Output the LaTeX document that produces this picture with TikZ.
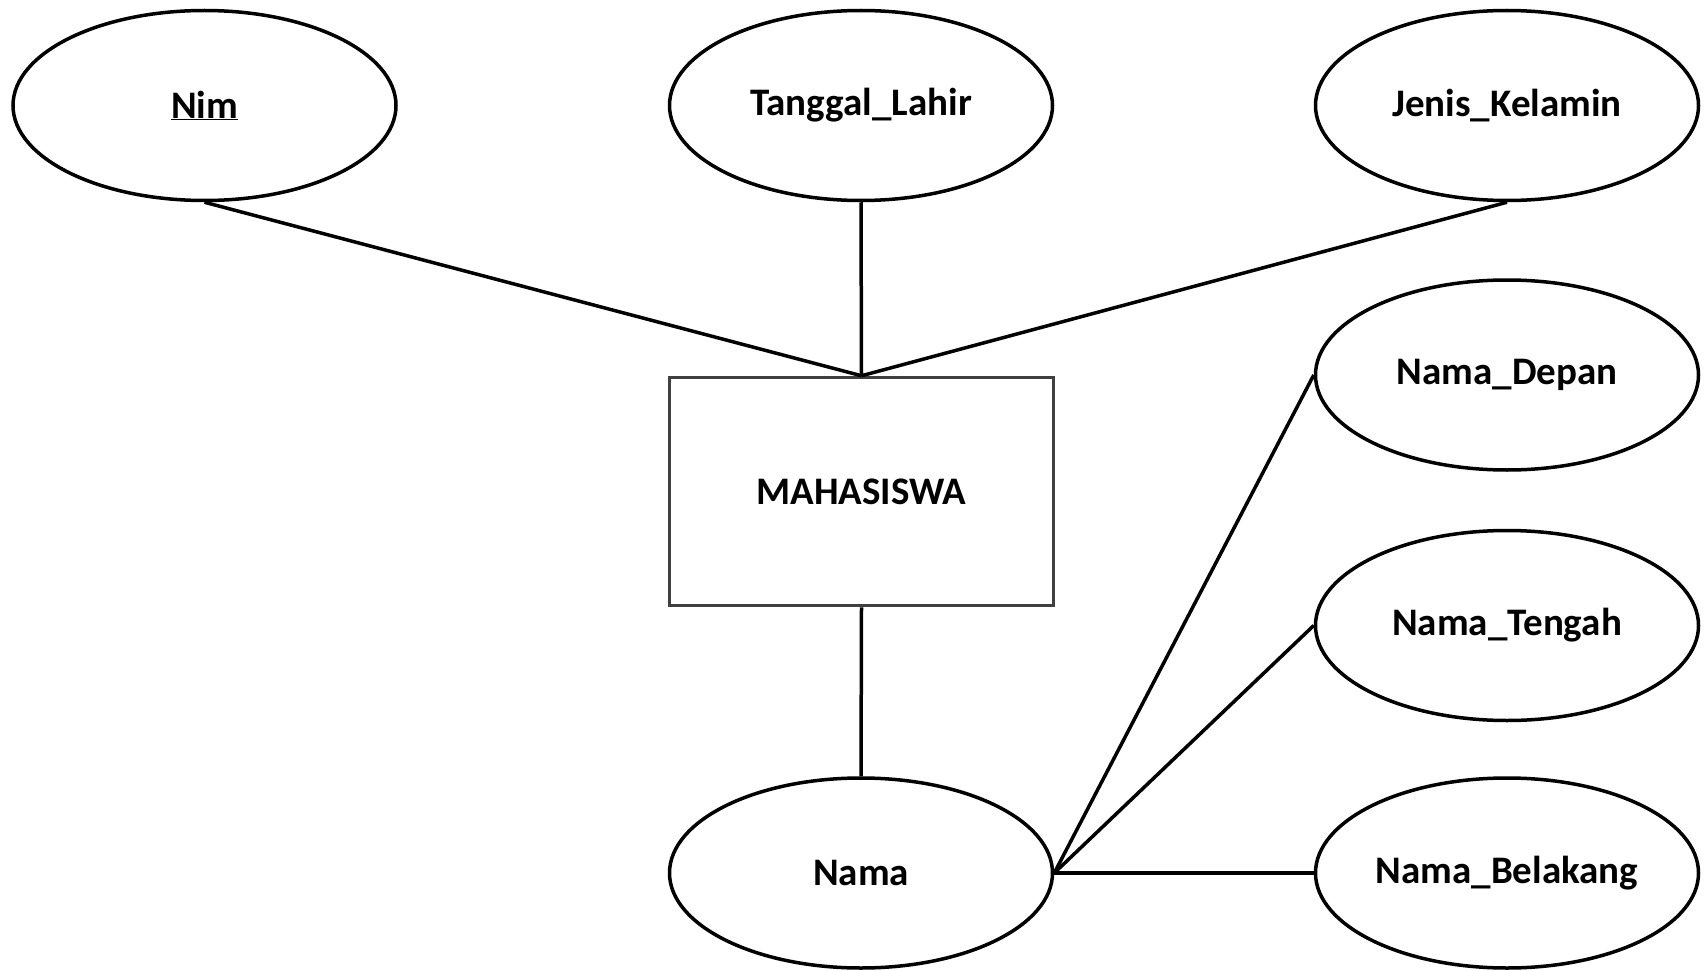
\documentclass[tikz,border=0pt]{standalone}
\usepackage{fontspec}
\setmainfont{Carlito}
\usetikzlibrary{shapes.geometric}

\definecolor{boxgray}{HTML}{404040}

\tikzset{
  attr/.style={ellipse, draw=black, line width=3.5pt, inner sep=0pt,
    minimum width=383pt, minimum height=190pt, font=\fontsize{39}{43}\selectfont\bfseries},
  entity/.style={rectangle, draw=boxgray, line width=3.5pt, inner sep=0pt,
    minimum width=384pt, minimum height=228pt, font=\fontsize{39}{43}\selectfont\bfseries},
  link/.style={draw=black, line width=3.5pt}
}

\begin{document}
\begin{tikzpicture}[x=1pt, y=-1pt]
    \useasboundingbox (0,0) rectangle (1706,971);

    \node[entity](Mhs) at (861.5, 491.5){MAHASISWA};

    \node[attr](Nim) at (204.5, 105.5){\underline{Nim}};
    \node[attr](TglLahir) at (861.0, 105.5){Tanggal\_Lahir};
    \node[attr](JnsKelamin) at (1507.0, 105.5){Jenis\_Kelamin};

    \node[attr](Nama) at (861.0, 873.0){Nama};
    \node[attr](NmDepan) at (1507.0, 375.0){Nama\_Depan};
    \node[attr](NmTengah) at (1507.0, 625.5){Nama\_Tengah};
    \node[attr](NmBelakang) at (1507.0, 873.0){Nama\_Belakang};

    \draw[link] (Nim.south) -- (Mhs.north);
    \draw[link] (TglLahir.south) -- (Mhs.north);
    \draw[link] (JnsKelamin.south) -- (Mhs.north);
    \draw[link] (Mhs.south) -- (Nama.north);

    \draw[link] (Nama.east) -- (NmDepan.west);
    \draw[link] (Nama.east) -- (NmTengah.west);
    \draw[link] (Nama.east) -- (NmBelakang.west);
  \end{tikzpicture}
\end{document}
